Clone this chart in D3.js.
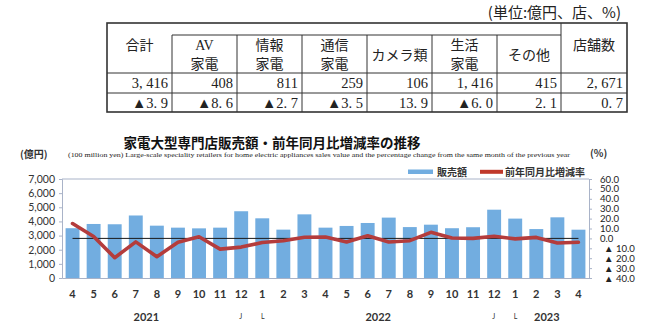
<!DOCTYPE html>
<html>
<head>
<meta charset="utf-8">
<script src="https://cdn.jsdelivr.net/npm/d3@7"></script>
<style>
  html, body { margin: 0; padding: 0; background: #fff; }
  svg { display: block; }
</style>
</head>
<body>
<svg id="chart" width="650" height="332"></svg>
<script>
// ---- Summary table (latest month) ----
const tableHeads = [["合計"], ["AV", "家電"], ["情報", "家電"], ["通信", "家電"], ["カメラ類"], ["生活", "家電"], ["その他"], ["店舗数"]];
const tableValues = ["3, 416", "408", "811", "259", "106", "1, 416", "415", "2, 671"];
const tableChanges = ["▲3. 9", "▲8. 6", "▲2. 7", "▲3. 5", "13. 9", "▲6. 0", "2. 1", "0. 7"];
const unitNote = "(単位:億円、店、%)";

// ---- Monthly series ----
const months = ["4","5","6","7","8","9","10","11","12","1","2","3","4","5","6","7","8","9","10","11","12","1","2","3","4"];
const sales = [3520, 3820, 3800, 4420, 3700, 3560, 3510, 3560, 4720, 4220, 3420, 4500, 3560, 3680, 3890, 4270, 3600, 3770, 3520, 3590, 4830, 4200, 3460, 4290, 3416];
const yoy = [15.0, 2.0, -19.5, -3.5, -18.5, -4.0, 1.6, -10.8, -8.8, -4.2, -2.3, 1.2, 1.4, -3.6, 2.7, -3.6, -2.3, 6.1, 0.4, 0.0, 2.1, -0.5, 1.0, -4.6, -3.9];
const salesTicks = [0, 1000, 2000, 3000, 4000, 5000, 6000, 7000];
const pctTicks = [-40, -30, -20, -10, 0, 10, 20, 30, 40, 50, 60];
const years = [{ label: "2021", at: 3.5 }, { label: "2022", at: 14.5 }, { label: "2023", at: 22.5 }];
const yearMarks = [{ t: "J", at: 7.98 }, { t: "L", at: 9.02 }, { t: "J", at: 19.98 }, { t: "L", at: 21.02 }];

const svg = d3.select("#chart");
const jp = "'Noto Sans CJK JP', sans-serif";
const serif = "'Liberation Serif', 'Noto Sans CJK JP', serif";
const sans = "Lato, 'Open Sans', sans-serif";

// ===== Table =====
const colX = [107, 172, 237, 302, 367, 432, 497, 561, 627];
const tTop = 23, tMerge = 35, tHead = 73, tRow1 = 93, tBot = 112;
const tbl = svg.append("g");

svg.append("text")
  .attr("x", 621).attr("y", 18)
  .attr("text-anchor", "end")
  .style("font-family", jp).style("font-size", "15px").style("fill", "#222")
  .text(unitNote);

const lineCol = "#333";
function hline(x1, x2, y, w) {
  tbl.append("line").attr("x1", x1).attr("x2", x2).attr("y1", y).attr("y2", y)
    .attr("stroke", lineCol).attr("stroke-width", w || 1);
}
function vline(xp, y1, y2, w) {
  tbl.append("line").attr("x1", xp).attr("x2", xp).attr("y1", y1).attr("y2", y2)
    .attr("stroke", lineCol).attr("stroke-width", w || 1);
}
hline(colX[1], colX[7], tMerge);
hline(colX[0], colX[8], tHead);
hline(colX[0], colX[8], tRow1);
vline(colX[1], tMerge, tBot);
for (let i = 2; i < 7; i++) vline(colX[i], tMerge, tBot);
vline(colX[7], tTop, tBot);
tbl.append("rect")
  .attr("x", colX[0]).attr("y", tTop)
  .attr("width", colX[8] - colX[0]).attr("height", tBot - tTop)
  .attr("fill", "none").attr("stroke", lineCol).attr("stroke-width", 1.6);

tableHeads.forEach((lines, i) => {
  const cxh = (colX[i] + colX[i + 1]) / 2;
  let ys;
  if (i === 0 || i === 7) ys = [50];
  else if (lines.length === 2) ys = [50, 69];
  else ys = [60];
  lines.forEach((s, k) => {
    tbl.append("text")
      .attr("x", cxh).attr("y", ys[k])
      .attr("text-anchor", "middle")
      .style("font-family", /^[A-Z]+$/.test(s) ? serif : jp)
      .style("font-size", "14px").style("fill", "#222")
      .text(s);
  });
});
tableValues.forEach((v, i) => {
  tbl.append("text")
    .attr("x", colX[i + 1] - 4).attr("y", 88)
    .attr("text-anchor", "end")
    .style("font-family", serif).style("font-size", "14.5px").style("fill", "#222")
    .text(v);
});
tableChanges.forEach((v, i) => {
  tbl.append("text")
    .attr("x", colX[i + 1] - 4).attr("y", 107.5)
    .attr("text-anchor", "end")
    .style("font-family", serif).style("font-size", "14.5px").style("fill", "#222")
    .text(v);
});

// ===== Chart =====
const plotL = 62, plotR = 589, plotT = 179, plotB = 278;

svg.append("text")
  .attr("x", 272).attr("y", 148)
  .attr("text-anchor", "middle")
  .style("font-family", jp).style("font-weight", 700).style("font-size", "13.5px").style("fill", "#111")
  .text("家電大型専門店販売額・前年同月比増減率の推移");

svg.append("text")
  .attr("x", 68).attr("y", 156.5)
  .style("font-family", serif).style("font-size", "7px").style("fill", "#222")
  .attr("textLength", 502).attr("lengthAdjust", "spacingAndGlyphs")
  .text("(100 million yen) Large-scale speciality retailers for home electric appliances sales value and the percentage change from the same month of the previous year");

svg.append("text")
  .attr("x", 20).attr("y", 158)
  .style("font-family", jp).style("font-weight", 700).style("font-size", "10px").style("fill", "#333")
  .text("(億円)");
svg.append("text")
  .attr("x", 590).attr("y", 157)
  .style("font-family", jp).style("font-weight", 700).style("font-size", "10px").style("fill", "#333")
  .text("(%)");

const x = d3.scaleBand()
  .domain(d3.range(months.length))
  .range([plotL, plotR])
  .paddingInner(0.34).paddingOuter(0.17);
const yL = d3.scaleLinear().domain([0, 7000]).range([plotB, plotT]);
const yR = d3.scaleLinear().domain([-40, 60]).range([plotB, plotT]);
const cx = i => x(i) + x.bandwidth() / 2;

// plot frame top edge
svg.append("line")
  .attr("x1", plotL).attr("x2", plotR).attr("y1", plotT).attr("y2", plotT)
  .attr("stroke", "#a9b3c8").attr("stroke-width", 1);

// bars
svg.append("g").selectAll("rect")
  .data(sales)
  .join("rect")
  .attr("x", (d, i) => x(i))
  .attr("width", x.bandwidth())
  .attr("y", d => yL(d))
  .attr("height", d => yL(0) - yL(d))
  .attr("fill", "#72ade0");

// zero reference line for the percentage axis
svg.append("line")
  .attr("x1", cx(0)).attr("x2", cx(months.length - 1))
  .attr("y1", yR(0)).attr("y2", yR(0))
  .attr("stroke", "#1a1a1a").attr("stroke-width", 1);

// year-on-year line
const line = d3.line().x((d, i) => cx(i)).y(d => yR(d));
svg.append("path")
  .datum(yoy)
  .attr("d", line)
  .attr("fill", "none")
  .attr("stroke", "#b43c3c")
  .attr("stroke-width", 3.6)
  .attr("stroke-linejoin", "round")
  .attr("stroke-linecap", "round");

// left axis
const axL = svg.append("g")
  .attr("transform", `translate(${plotL},0)`)
  .call(d3.axisLeft(yL).tickValues(salesTicks).tickFormat(d3.format(",")).tickSize(3).tickPadding(4));
axL.select(".domain").attr("stroke", "#a9b3c8");
axL.selectAll(".tick line").attr("stroke", "#a9b3c8");
axL.selectAll("text")
  .style("font-family", sans).style("font-size", "10.5px").style("fill", "#333");

// right axis
const pctFmt = d => d < 0 ? "▲ " + Math.abs(d).toFixed(1) : d.toFixed(1);
const axR = svg.append("g")
  .attr("transform", `translate(${plotR},0)`)
  .call(d3.axisRight(yR).tickValues(pctTicks).tickFormat(pctFmt).tickSize(3).tickPadding(10));
axR.select(".domain").attr("stroke", "#a9b3c8");
axR.selectAll(".tick line").attr("stroke", "#a9b3c8");
axR.selectAll("text")
  .style("font-family", sans).style("font-size", "9.6px").style("fill", "#222")
  .attr("x", d => d < 0 ? 15 : 11);

// x axis
const axB = svg.append("g")
  .attr("transform", `translate(0,${plotB})`)
  .call(d3.axisBottom(x).tickFormat(i => months[i]).tickSize(0).tickPadding(12));
axB.select(".domain").attr("stroke", "#a9b3c8");
axB.selectAll("text")
  .style("font-family", sans).style("font-weight", 700).style("font-size", "11px").style("fill", "#333");

// year labels
svg.append("g").selectAll("text")
  .data(years)
  .join("text")
  .attr("x", d => plotL + x.step() * (x.paddingOuter() + d.at) + x.bandwidth() / 2)
  .attr("y", 321)
  .attr("text-anchor", "middle")
  .style("font-family", sans).style("font-weight", 700).style("font-size", "11px").style("fill", "#333")
  .text(d => d.label);

svg.append("g").selectAll("text")
  .data(yearMarks)
  .join("text")
  .attr("x", d => plotL + x.step() * (x.paddingOuter() + d.at) + x.bandwidth() / 2)
  .attr("y", 319)
  .attr("text-anchor", "middle")
  .style("font-family", sans).style("font-size", "7px").style("fill", "#333")
  .text(d => d.t);

// legend
const lg = svg.append("g");
lg.append("rect").attr("x", 408).attr("y", 169.5).attr("width", 25).attr("height", 4.5).attr("fill", "#72ade0");
lg.append("text").attr("x", 437).attr("y", 175.5)
  .style("font-family", jp).style("font-weight", 700).style("font-size", "10px").style("fill", "#333")
  .text("販売額");
lg.append("line").attr("x1", 480).attr("x2", 503).attr("y1", 171.8).attr("y2", 171.8)
  .attr("stroke", "#c0392b").attr("stroke-width", 4);
lg.append("text").attr("x", 505).attr("y", 175.5)
  .style("font-family", jp).style("font-weight", 700).style("font-size", "10px").style("fill", "#333")
  .text("前年同月比増減率");
</script>
</body>
</html>
